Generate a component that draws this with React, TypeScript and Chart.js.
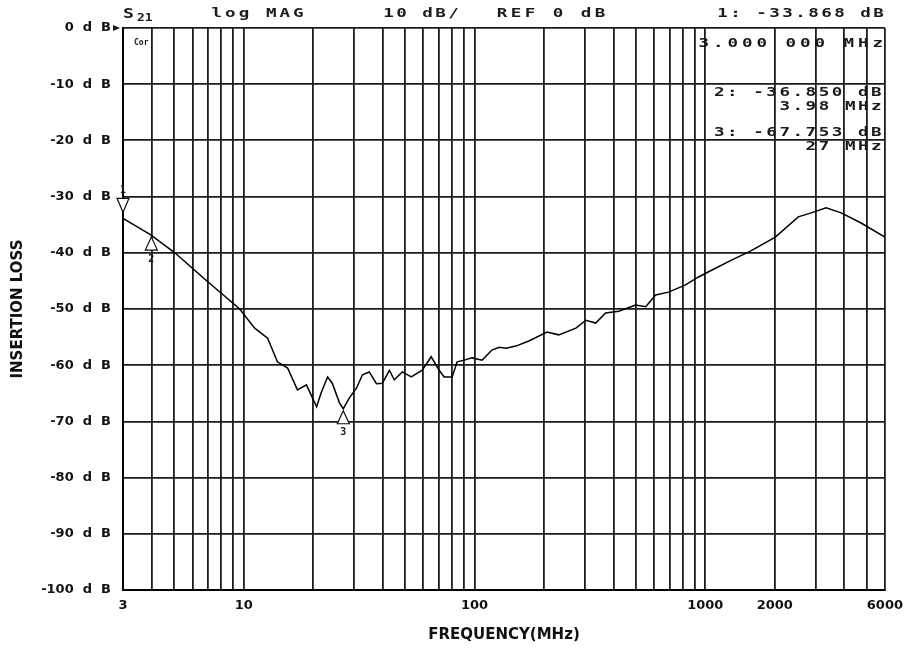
import React, { useEffect, useRef } from "react";
import { Chart, registerables } from "chart.js";

Chart.register(...registerables);

// Trace S21 (MHz, dB)
const freqMHz = [
  3, 3.96, 5.03, 6.79, 9.61, 11.16, 12.7, 14.0, 15.5, 17.1, 18.7, 20.7, 21.7, 23.1,
  24.2, 26.0, 27.0, 28.7, 30.8, 32.7, 35.0, 37.6, 39.9, 42.8, 44.9, 48.7, 53.2, 59.4,
  64.9, 70.3, 73.9, 80.0, 84.1, 90.2, 97.6, 107.9, 119, 128, 137, 151, 172, 206, 232,
  275, 304, 335, 370, 422, 499, 552, 609, 693, 821, 935, 1064, 1298, 1568, 2011, 2528,
  2877, 3339, 3878, 4731, 6000,
];
const lossDb = [
  -33.87, -36.8, -40.0, -44.7, -50.0, -53.4, -55.2, -59.4, -60.5, -64.4, -63.5, -67.4,
  -64.8, -62.1, -63.2, -66.7, -67.75, -65.8, -64.1, -61.7, -61.2, -63.3, -63.2, -60.9,
  -62.6, -61.2, -62.1, -60.9, -58.5, -60.9, -62.1, -62.1, -59.4, -59.1, -58.7, -59.1,
  -57.3, -56.8, -57.0, -56.6, -55.7, -54.1, -54.6, -53.4, -52.0, -52.5, -50.7, -50.4,
  -49.3, -49.6, -47.5, -47.0, -45.7, -44.3, -43.1, -41.3, -39.7, -37.2, -33.6, -32.9,
  -32.0, -32.9, -34.7, -37.2,
];

// Markers
const markerNums = ["1", "2", "3"];
const markerFreq = [3, 3.98, 27];
const markerDb = [-33.868, -36.85, -67.753];
const markerAbove = [true, false, false];

// Axes
const gridFreqs = [
  3, 4, 5, 6, 7, 8, 9, 10, 20, 30, 40, 50, 60, 70, 80, 90, 100, 200, 300, 400, 500, 600,
  700, 800, 900, 1000, 2000, 3000, 4000, 5000, 6000,
];
const labeledFreqs = [3, 10, 100, 1000, 2000, 6000];
const refLevelDb = 0;

// Annotation texts
const headerTexts = ["log MAG", "10 dB/", "REF 0 dB", "1: -33.868 dB"];
const markerReadouts = ["3.000 000 MHz", "2: -36.850 dB", "3.98 MHz", "3: -67.753 dB", "27 MHz"];

const MONO = "'DejaVu Sans Mono', monospace";

function drawMono(
  ctx: CanvasRenderingContext2D,
  text: string,
  x: number,
  y: number,
  pitch: number,
  align: "left" | "right",
  size = 13
) {
  const start = align === "left" ? x : x - text.length * pitch;
  ctx.save();
  ctx.font = `bold ${size}px ${MONO}`;
  ctx.textAlign = "center";
  ctx.textBaseline = "middle";
  for (let i = 0; i < text.length; i++) {
    const cx = start + i * pitch + pitch / 2;
    ctx.save();
    ctx.translate(cx, y);
    ctx.scale(1.35, 1);
    ctx.fillText(text[i], 0, 0);
    ctx.restore();
  }
  ctx.restore();
}

const annotationPlugin = {
  id: "vnaAnnotations",
  afterDatasetsDraw(chart: any) {
    const ctx: CanvasRenderingContext2D = chart.ctx;
    const xs = chart.scales.x;
    const ys = chart.scales.y;
    const area = chart.chartArea;
    ctx.save();
    ctx.fillStyle = "#1a1a1a";
    ctx.strokeStyle = "#111";

    // header
    const ty = area.top - 14;
    ctx.save();
    ctx.font = `bold 14px ${MONO}`;
    ctx.textBaseline = "middle";
    ctx.textAlign = "left";
    ctx.save();
    ctx.translate(area.left, ty);
    ctx.scale(1.3, 1);
    ctx.fillText("S", 0, 0);
    ctx.restore();
    ctx.font = `bold 10px ${MONO}`;
    ctx.save();
    ctx.translate(area.left + 14, ty + 4);
    ctx.scale(1.3, 1);
    ctx.fillText("21", 0, 0);
    ctx.restore();
    ctx.restore();

    drawMono(ctx, headerTexts[0], area.left + 87, ty, 13.6, "left");
    drawMono(ctx, headerTexts[1], area.left + 259, ty, 13, "left");
    drawMono(ctx, headerTexts[2], area.left + 372, ty, 14, "left");
    drawMono(ctx, headerTexts[3], area.right, ty, 13, "right");

    // "Cor" annotation
    ctx.save();
    ctx.font = `bold 8px ${MONO}`;
    ctx.textBaseline = "middle";
    ctx.fillText("Cor", area.left + 11, area.top + 15);
    ctx.restore();

    // marker readouts
    drawMono(ctx, markerReadouts[0], area.right, area.top + 16, 14.5, "right");
    drawMono(ctx, markerReadouts[1], area.right - 2, area.top + 65, 13.1, "right");
    drawMono(ctx, markerReadouts[2], area.right - 2, area.top + 79, 13.1, "right");
    drawMono(ctx, markerReadouts[3], area.right - 2, area.top + 105, 13.1, "right");
    drawMono(ctx, markerReadouts[4], area.right - 2, area.top + 119, 13.1, "right");

    // reference level pointer
    const ry = ys.getPixelForValue(refLevelDb);
    ctx.beginPath();
    ctx.moveTo(area.left - 10, ry - 3);
    ctx.lineTo(area.left - 3, ry);
    ctx.lineTo(area.left - 10, ry + 3);
    ctx.closePath();
    ctx.fill();

    // markers
    ctx.lineWidth = 1.2;
    markerFreq.forEach((f, i) => {
      const px = xs.getPixelForValue(f);
      const py = ys.getPixelForValue(markerDb[i]);
      ctx.beginPath();
      if (markerAbove[i]) {
        ctx.moveTo(px - 6, py - 20);
        ctx.lineTo(px + 6, py - 20);
        ctx.lineTo(px, py - 6);
      } else {
        ctx.moveTo(px, py + 2);
        ctx.lineTo(px - 6, py + 15);
        ctx.lineTo(px + 6, py + 15);
      }
      ctx.closePath();
      ctx.fillStyle = "#fff";
      ctx.fill();
      ctx.stroke();
      ctx.fillStyle = "#1a1a1a";
      ctx.font = `bold 10px ${MONO}`;
      ctx.textAlign = "center";
      ctx.textBaseline = "middle";
      const ly = markerAbove[i] ? py - 28 : py + 24;
      ctx.fillText(markerNums[i], px, ly);
    });
    ctx.restore();
  },
};

export default function App() {
  const canvasRef = useRef<HTMLCanvasElement | null>(null);

  useEffect(() => {
    if (!canvasRef.current) return;
    const points = freqMHz.map((f, i) => ({ x: f, y: lossDb[i] }));
    const tickFont = { family: "'DejaVu Sans', sans-serif", weight: "bold" as const, size: 13 };
    const chart = new Chart(canvasRef.current, {
      type: "line",
      data: {
        datasets: [
          {
            label: "S21",
            data: points,
            borderColor: "#000",
            borderWidth: 1.5,
            pointRadius: 0,
            tension: 0,
            fill: false,
          },
        ],
      },
      options: {
        responsive: false,
        animation: false,
        events: [],
        layout: { padding: { top: 28, right: 24, left: 0, bottom: 0 } },
        plugins: {
          legend: { display: false },
          tooltip: { enabled: false },
        },
        scales: {
          x: {
            type: "logarithmic",
            min: 3,
            max: 6000,
            afterBuildTicks: (s: any) => {
              s.ticks = gridFreqs.map((v) => ({ value: v }));
            },
            afterFit: (s: any) => {
              s.height = 58;
            },
            ticks: {
              autoSkip: false,
              maxRotation: 0,
              minRotation: 0,
              padding: 8,
              color: "#111",
              font: tickFont,
              callback: (v: any) => (labeledFreqs.includes(Number(v)) ? String(v) : ""),
            },
            grid: { color: "#1c1c1c", lineWidth: 1.8, drawTicks: false },
            border: { color: "#000", width: 2 },
            title: {
              display: true,
              text: "FREQUENCY(MHz)",
              color: "#111",
              font: { family: "'DejaVu Sans', sans-serif", weight: "bold", size: 15 },
              padding: { top: 4, bottom: 4 },
            },
          },
          y: {
            type: "linear",
            min: -100,
            max: 0,
            afterFit: (s: any) => {
              s.width = 123;
            },
            ticks: {
              stepSize: 10,
              padding: 12,
              color: "#111",
              font: tickFont,
              callback: (v: any) => `${v}  d  B`,
            },
            grid: { color: "#1c1c1c", lineWidth: 1.8, drawTicks: false },
            border: { color: "#000", width: 2 },
            title: {
              display: true,
              text: "INSERTION LOSS",
              color: "#111",
              font: { family: "'DejaVu Sans', sans-serif", weight: "bold", size: 15 },
              padding: { top: 9, bottom: 4 },
            },
          },
        },
      },
      plugins: [annotationPlugin],
    });
    return () => chart.destroy();
  }, []);

  return (
    <div style={{ position: "absolute", left: 0, top: 0, width: 911, height: 648, background: "#fff" }}>
      <canvas ref={canvasRef} width={911} height={648} />
    </div>
  );
}
